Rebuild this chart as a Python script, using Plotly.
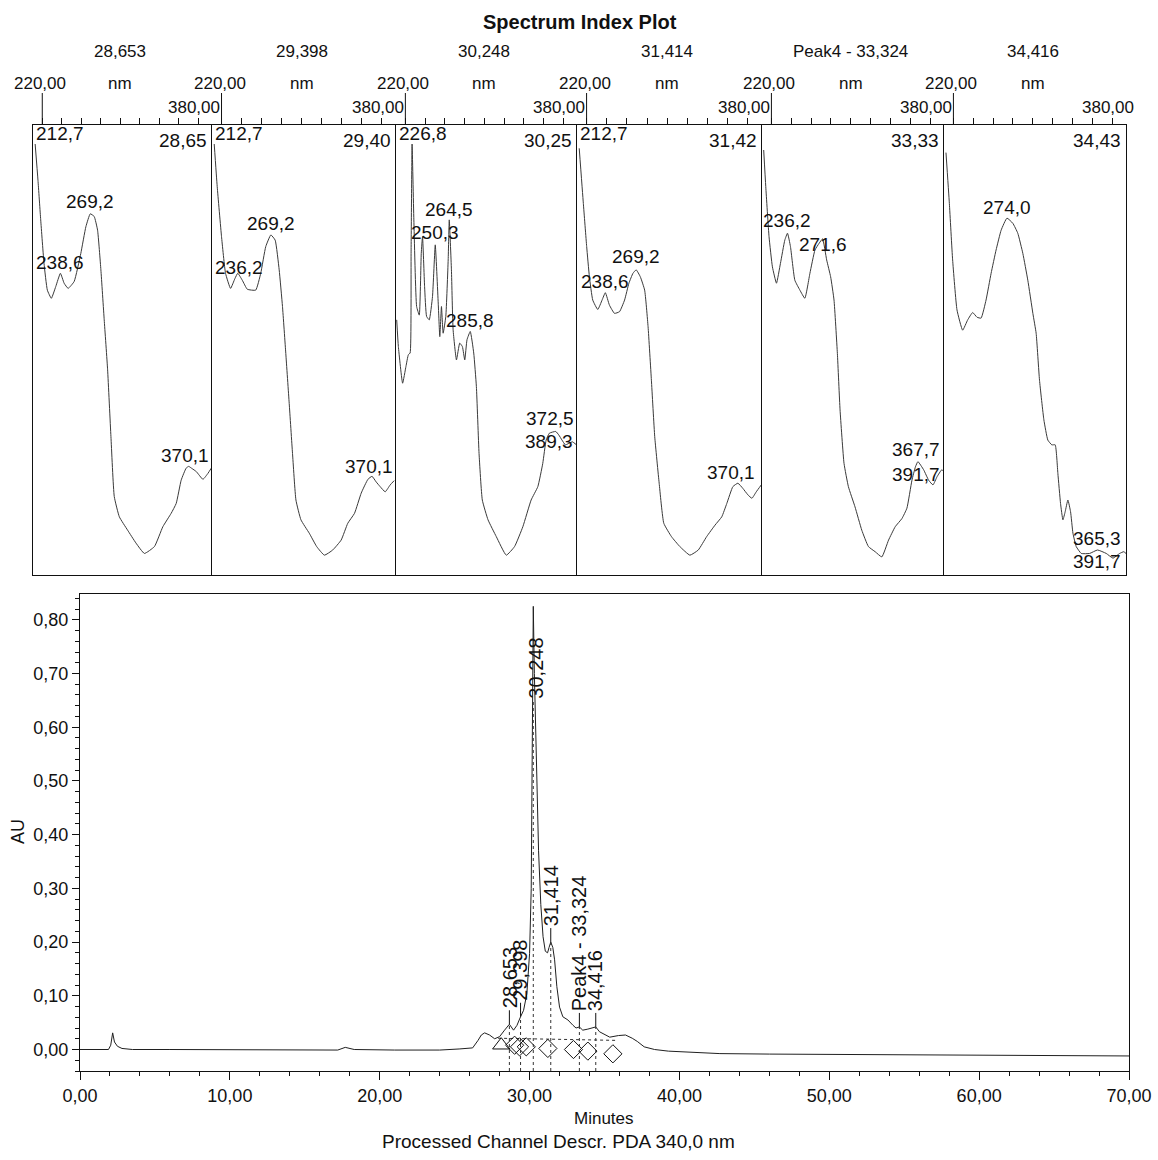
import numpy as np
import plotly.graph_objects as go

# ---------------------------------------------------------------
# UV spectra (wavelength in nm, relative absorbance) for each peak
# ---------------------------------------------------------------
spec1_wl = [212.7, 215.6, 218.4, 221.8, 225.2, 229.3, 233.8, 238.6, 242.4, 246.5,
            252.7, 259.5, 264.7, 269.2, 273.2, 276.7, 280.1, 283.5, 287.0, 290.4,
            293.8, 299.0, 307.5, 316.1, 324.7, 335.0, 343.6, 352.1, 357.3, 362.4,
            367.5, 370.1, 373.5, 377.9, 384.7, 389.9, 393.3]
spec1_abs = [1.000, 0.916, 0.824, 0.723, 0.661, 0.642, 0.669, 0.700, 0.677, 0.665,
             0.681, 0.746, 0.808, 0.838, 0.832, 0.800, 0.708, 0.592, 0.476, 0.321,
             0.182, 0.135, 0.104, 0.074, 0.050, 0.066, 0.112, 0.143, 0.166, 0.220,
             0.248, 0.252, 0.247, 0.240, 0.222, 0.236, 0.248]

spec2_wl = [212.7, 215.7, 220.0, 224.0, 229.0, 233.4, 236.2, 240.7, 245.7, 254.1,
            259.1, 264.1, 269.2, 273.5, 277.5, 280.8, 284.1, 287.5, 290.8, 294.2,
            299.2, 307.5, 314.9, 322.6, 330.9, 339.3, 345.9, 352.6, 359.3, 366.0,
            370.1, 374.2, 378.2, 383.2, 388.2, 392.2]
spec2_abs = [1.000, 0.901, 0.785, 0.700, 0.665, 0.688, 0.700, 0.684, 0.663, 0.661,
             0.700, 0.762, 0.789, 0.777, 0.708, 0.623, 0.514, 0.398, 0.282, 0.174,
             0.128, 0.097, 0.066, 0.046, 0.058, 0.081, 0.120, 0.143, 0.190, 0.222,
             0.229, 0.216, 0.205, 0.193, 0.209, 0.219]

spec3_wl = [211.2, 212.9, 217.2, 220.6, 223.0, 224.8, 225.8, 226.8, 228.6, 231.4,
            234.1, 236.1, 237.4, 239.5, 241.5, 244.2, 247.5, 250.3, 253.3, 254.9,
            256.6, 258.3, 261.0, 263.4, 264.5, 266.7, 268.4, 271.8, 275.1, 277.8,
            280.2, 282.5, 285.8, 289.3, 292.0, 294.7, 298.0, 303.8, 312.2, 322.3,
            330.7, 339.1, 347.5, 354.3, 359.3, 362.7, 366.0, 372.5, 375.5, 378.8,
            382.2, 389.3, 393.5]
spec3_abs = [0.592, 0.530, 0.445, 0.484, 0.511, 0.515, 0.746, 1.000, 0.824, 0.623,
             0.603, 0.746, 0.785, 0.669, 0.600, 0.592, 0.646, 0.766, 0.631, 0.553,
             0.623, 0.561, 0.600, 0.731, 0.824, 0.708, 0.569, 0.499, 0.538, 0.530,
             0.499, 0.546, 0.565, 0.515, 0.437, 0.282, 0.174, 0.128, 0.089, 0.046,
             0.066, 0.112, 0.174, 0.205, 0.259, 0.313, 0.329, 0.333, 0.325, 0.313,
             0.302, 0.309, 0.302]

spec4_wl = [212.7, 216.8, 220.1, 222.8, 226.1, 231.1, 235.4, 238.6, 242.7, 247.7,
            252.7, 257.7, 262.0, 266.0, 269.2, 273.3, 277.6, 281.0, 284.3, 287.6,
            292.0, 296.6, 304.2, 312.5, 322.5, 330.8, 339.1, 347.5, 354.1, 359.1,
            365.1, 370.1, 375.0, 380.0, 384.0, 388.3, 393.3]
spec4_abs = [0.990, 0.862, 0.762, 0.692, 0.638, 0.616, 0.638, 0.655, 0.626, 0.607,
             0.611, 0.638, 0.677, 0.700, 0.708, 0.692, 0.661, 0.576, 0.452, 0.321,
             0.213, 0.120, 0.089, 0.066, 0.046, 0.058, 0.089, 0.116, 0.135, 0.166,
             0.205, 0.213, 0.201, 0.186, 0.178, 0.193, 0.209]

spec5_wl = [212.2, 214.3, 217.6, 221.0, 225.1, 229.1, 233.5, 236.2, 239.2, 243.6,
            248.7, 253.7, 258.8, 263.9, 268.2, 271.6, 275.7, 279.7, 283.1, 286.5,
            289.2, 293.2, 297.6, 304.3, 311.1, 317.8, 324.6, 331.3, 338.1, 344.8,
            351.6, 356.6, 361.7, 365.2, 367.7, 373.5, 378.5, 382.9, 387.0, 391.7,
            393.9]
spec5_abs = [0.986, 0.901, 0.785, 0.715, 0.677, 0.723, 0.777, 0.793, 0.762, 0.684,
             0.661, 0.642, 0.700, 0.754, 0.770, 0.780, 0.731, 0.692, 0.638, 0.514,
             0.383, 0.259, 0.205, 0.158, 0.104, 0.066, 0.054, 0.042, 0.081, 0.112,
             0.131, 0.155, 0.220, 0.251, 0.263, 0.244, 0.220, 0.209, 0.228, 0.244,
             0.240]

spec6_wl = [212.5, 215.9, 219.2, 223.6, 229.3, 234.4, 239.4, 243.8, 247.9, 252.9,
            258.0, 263.0, 268.1, 274.0, 279.9, 284.9, 290.0, 295.0, 300.1, 303.4,
            306.8, 311.2, 315.2, 319.2, 322.6, 325.3, 328.0, 330.4, 332.7, 335.4,
            338.1, 340.5, 343.8, 348.9, 357.3, 365.3, 374.1, 380.9, 387.6, 391.7,
            394.0]
spec6_abs = [0.980, 0.862, 0.731, 0.615, 0.568, 0.592, 0.609, 0.598, 0.596, 0.638,
             0.700, 0.754, 0.800, 0.828, 0.816, 0.793, 0.746, 0.684, 0.607, 0.561,
             0.452, 0.360, 0.313, 0.302, 0.302, 0.236, 0.166, 0.128, 0.147, 0.174,
             0.147, 0.097, 0.066, 0.050, 0.050, 0.058, 0.050, 0.039, 0.050, 0.054,
             0.050]

# peak identities shown above each spectrum
spec_headers = ["28,653", "29,398", "30,248", "31,414", "Peak4 - 33,324", "34,416"]
# retention time at which each spectrum was extracted (min)
spec_times = [28.65, 29.40, 30.25, 31.42, 33.33, 34.43]
# lambda max printed in the upper-left corner (None = not printed)
spec_lmax = [212.7, 212.7, 226.8, 212.7, None, None]
# labelled spectral maxima (nm)
spec1_peaks = [238.6, 269.2, 370.1]
spec2_peaks = [236.2, 269.2, 370.1]
spec3_peaks = [250.3, 264.5, 285.8, 372.5, 389.3]
spec4_peaks = [238.6, 269.2, 370.1]
spec5_peaks = [236.2, 271.6, 367.7, 391.7]
spec6_peaks = [274.0, 365.3, 391.7]

# ---------------------------------------------------------------
# Chromatogram, PDA 340 nm
# ---------------------------------------------------------------
chrom_t = [0.0, 1.9, 2.05, 2.18, 2.3, 2.5, 2.8, 3.5, 6.0, 10.0,
           14.0, 17.2, 17.7, 18.3, 21.0, 24.0, 25.3, 26.2, 26.56, 26.78,
           27.0, 27.33, 27.67, 28.0, 28.33, 28.653, 28.93, 29.16, 29.398, 29.6,
           29.82, 30.0, 30.11, 30.18, 30.248, 30.32, 30.45, 30.6, 30.75, 30.9,
           31.05, 31.2, 31.3, 31.414, 31.55, 31.67, 31.82, 32.0, 32.22, 32.56,
           32.9, 33.1, 33.324, 33.55, 33.89, 34.1, 34.416, 34.67, 35.0, 35.35,
           35.93, 36.4, 36.85, 37.19, 37.65, 38.34, 39.26, 40.41, 42.7, 46.0,
           50.0, 55.0, 60.0, 65.0, 70.0]
chrom_au = [0.000, 0.000, 0.008, 0.031, 0.014, 0.006, 0.002, 0.000, 0.000, 0.000,
            -0.001, -0.001, 0.004, 0.000, -0.001, -0.001, 0.001, 0.003, 0.017, 0.027,
            0.031, 0.027, 0.020, 0.024, 0.036, 0.047, 0.036, 0.045, 0.061, 0.073,
            0.104, 0.179, 0.300, 0.560, 0.825, 0.700, 0.520, 0.370, 0.270, 0.210,
            0.183, 0.180, 0.190, 0.200, 0.190, 0.167, 0.117, 0.079, 0.061, 0.055,
            0.045, 0.040, 0.042, 0.036, 0.038, 0.040, 0.042, 0.033, 0.028, 0.023,
            0.026, 0.027, 0.021, 0.015, 0.005, 0.000, -0.003, -0.0045, -0.0076, -0.0085,
            -0.009, -0.0095, -0.010, -0.011, -0.012]

peak_names = ["28,653", "29,398", "30,248", "31,414", "Peak4 - 33,324", "34,416"]
peak_times = [28.653, 29.398, 30.248, 31.414, 33.324, 34.416]

# integration event markers
event_diamond_t = [29.0, 29.33, 29.78, 31.22, 32.93, 33.89, 35.56]
event_diamond_au = [0.008, 0.005, 0.005, 0.002, 0.000, -0.003, -0.008]
event_start_t = [28.11]
event_start_au = [0.008]
baseline_t = [27.9, 35.8]
baseline_au = [0.021, 0.017]

# ---------------------------------------------------------------
# page geometry (pixels) and styling
# ---------------------------------------------------------------
W, H = 1158, 1160
FONT = "Liberation Sans, Arial, Helvetica, sans-serif"
INK = "#111111"
PANEL_EDGES = [33, 212, 396, 577, 762, 944, 1126]
PANEL_TOP, PANEL_BOT = 125, 575
WL_RANGE = [210.5, 394.0]
AB_RANGE = [0.0, 450.0 / 431.0]
CH_LEFT, CH_RIGHT, CH_TOP, CH_BOT = 80, 1129, 594, 1071
AU_RANGE = [-0.040, 0.848]

# label offsets (px) relative to each labelled spectral maximum
spec_label_offsets = [
    [(0, 11), (0, 12), (-4, 11)],
    [(1, 6), (0, 11), (-3, 10)],
    [(0, 12), (0, 10), (0, 11), (-6, 13), (-23, 0)],
    [(0, 11), (0, 13), (-7, 11)],
    [(0, 13), (0, -6), (-2, 12), (-26, -5)],
    [(0, 11), (-1, 12), (-27, -10)],
]


def fx(px):
    return px / W


def fy(py):
    return 1 - py / H


def comma(v, nd):
    return f"{v:.{nd}f}".replace(".", ",")


spectra = [(spec1_wl, spec1_abs), (spec2_wl, spec2_abs), (spec3_wl, spec3_abs),
           (spec4_wl, spec4_abs), (spec5_wl, spec5_abs), (spec6_wl, spec6_abs)]
spec_peaks = [spec1_peaks, spec2_peaks, spec3_peaks, spec4_peaks, spec5_peaks, spec6_peaks]

fig = go.Figure()
annotations = []
shapes = []
layout_axes = {}

label_font = dict(family=FONT, size=19, color=INK)
small_font = dict(family=FONT, size=17, color=INK)
n_panels = len(spectra)

for i, (wl, ab) in enumerate(spectra):
    n = i + 1
    xa = "x" if n == 1 else f"x{n}"
    ya = "y" if n == 1 else f"y{n}"
    xkey = "xaxis" if n == 1 else f"xaxis{n}"
    ykey = "yaxis" if n == 1 else f"yaxis{n}"
    left, right = PANEL_EDGES[i], PANEL_EDGES[i + 1]

    fig.add_trace(go.Scatter(x=wl, y=ab, mode="lines", xaxis=xa, yaxis=ya,
                             line=dict(color="#3a3a3a", width=1, shape="spline", smoothing=0.4),
                             showlegend=False, hoverinfo="skip"))

    layout_axes[xkey] = dict(domain=[fx(left), fx(right)], range=WL_RANGE, anchor=ya,
                             side="top", showline=True, mirror=True, linecolor=INK, linewidth=1,
                             ticks="outside", tickvals=list(range(220, 381, 20)), ticklen=6,
                             tickcolor=INK, showticklabels=False, showgrid=False, zeroline=False,
                             automargin=False, fixedrange=True)
    # shared dividers are drawn once, by the left edge of the following panel
    layout_axes[ykey] = dict(domain=[fy(PANEL_BOT), fy(PANEL_TOP)], range=AB_RANGE, anchor=xa,
                             showline=True, mirror=(n == n_panels), linecolor=INK, linewidth=1,
                             ticks="", showticklabels=False, showgrid=False, zeroline=False,
                             automargin=False, fixedrange=True)

    # long tick at the start wavelength
    shapes.append(dict(type="line", xref=xa, yref="paper", x0=220, x1=220,
                       y0=fy(PANEL_TOP), y1=fy(93), line=dict(color=INK, width=1)))

    # wavelength scale captions
    annotations += [
        dict(x=220, y=fy(83), xref=xa, yref="paper", text="220,00", showarrow=False,
             xshift=-2, font=small_font, xanchor="center", yanchor="middle"),
        dict(x=300, y=fy(83), xref=xa, yref="paper", text="nm", showarrow=False,
             font=small_font, xanchor="center", yanchor="middle"),
        dict(x=380, y=fy(108), xref=xa, yref="paper", text="380,00", showarrow=False,
             xshift=-4, font=small_font, xanchor="center", yanchor="middle"),
        dict(x=300, y=fy(52), xref=xa, yref="paper", text=spec_headers[i], showarrow=False,
             font=small_font, xanchor="center", yanchor="middle"),
        dict(x=fx(right - 3), y=fy(128), xref="paper", yref="paper",
             text=comma(spec_times[i], 2), showarrow=False, font=label_font,
             xanchor="right", yanchor="top"),
    ]
    if spec_lmax[i] is not None:
        annotations.append(dict(x=fx(left + 1), y=fy(121), xref="paper", yref="paper",
                                text=comma(spec_lmax[i], 1), showarrow=False, font=label_font,
                                xanchor="left", yanchor="top"))

    for p, (dx, dy) in zip(spec_peaks[i], spec_label_offsets[i]):
        annotations.append(dict(x=p, y=float(np.interp(p, wl, ab)), xref=xa, yref=ya,
                                text=comma(p, 1), showarrow=False, xshift=dx, yshift=dy,
                                font=label_font, xanchor="center", yanchor="middle"))

# ---------------- chromatogram ----------------
fig.add_trace(go.Scatter(x=chrom_t, y=chrom_au, mode="lines", xaxis="x7", yaxis="y7",
                         line=dict(color="#202020", width=1), showlegend=False,
                         hoverinfo="skip"))
fig.add_trace(go.Scatter(x=baseline_t, y=baseline_au, mode="lines", xaxis="x7", yaxis="y7",
                         line=dict(color="#303030", width=1, dash="dot"), showlegend=False,
                         hoverinfo="skip"))
fig.add_trace(go.Scatter(x=event_diamond_t, y=event_diamond_au, mode="markers",
                         xaxis="x7", yaxis="y7",
                         marker=dict(symbol="diamond-open", size=14, color=INK,
                                     line=dict(width=1, color=INK)),
                         showlegend=False, hoverinfo="skip"))
fig.add_trace(go.Scatter(x=event_start_t, y=event_start_au, mode="markers",
                         xaxis="x7", yaxis="y7",
                         marker=dict(symbol="triangle-up-open", size=15, color=INK,
                                     line=dict(width=1, color=INK)),
                         showlegend=False, hoverinfo="skip"))

px_per_au = (CH_BOT - CH_TOP) / (AU_RANGE[1] - AU_RANGE[0])
leader_au = 14 / px_per_au
peak_font = dict(family=FONT, size=20, color=INK)

for name, t in zip(peak_names, peak_times):
    apex = float(np.interp(t, chrom_t, chrom_au))
    if apex > 0.5:
        # tallest peak: label sits inside the peak below its apex
        label_y = apex - 62 / px_per_au
        shapes.append(dict(type="line", xref="x7", yref="y7", x0=t, x1=t,
                           y0=AU_RANGE[0], y1=label_y - 32 / px_per_au,
                           line=dict(color="#333333", width=1, dash="dot")))
        annotations.append(dict(x=t, y=label_y, xref="x7", yref="y7", text=name,
                                textangle=-90, showarrow=False, xshift=3,
                                font=peak_font, xanchor="center", yanchor="middle"))
    else:
        shapes.append(dict(type="line", xref="x7", yref="y7", x0=t, x1=t,
                           y0=AU_RANGE[0], y1=apex,
                           line=dict(color="#333333", width=1, dash="dot")))
        shapes.append(dict(type="line", xref="x7", yref="y7", x0=t, x1=t,
                           y0=apex, y1=apex + leader_au,
                           line=dict(color=INK, width=1)))
        annotations.append(dict(x=t, y=apex + leader_au, xref="x7", yref="y7", text=name,
                                textangle=-90, showarrow=False,
                                font=peak_font, xanchor="center", yanchor="bottom"))

layout_axes["xaxis7"] = dict(domain=[fx(CH_LEFT), fx(CH_RIGHT)], range=[0, 70], anchor="y7",
                             showline=True, mirror=True, linecolor=INK, linewidth=1,
                             ticks="outside", tick0=0, dtick=10, ticklen=8, tickcolor=INK,
                             tickformat=".2f", tickfont=dict(family=FONT, size=18, color=INK),
                             minor=dict(ticks="outside", dtick=2, ticklen=4, tickcolor=INK),
                             showgrid=False, zeroline=False, automargin=False, fixedrange=True)
layout_axes["yaxis7"] = dict(domain=[fy(CH_BOT), fy(CH_TOP)], range=AU_RANGE, anchor="x7",
                             showline=True, mirror=True, linecolor=INK, linewidth=1,
                             ticks="outside", tick0=0, dtick=0.1, ticklen=7, tickcolor=INK,
                             tickformat=".2f", tickfont=dict(family=FONT, size=18, color=INK),
                             minor=dict(ticks="outside", dtick=0.02, ticklen=4, tickcolor=INK),
                             showgrid=False, zeroline=False, automargin=False, fixedrange=True)

annotations += [
    dict(x=fx(580), y=fy(22), xref="paper", yref="paper", text="<b>Spectrum Index Plot</b>",
         showarrow=False, font=dict(family=FONT, size=20, color=INK),
         xanchor="center", yanchor="middle"),
    dict(x=fx(18), y=fy(832), xref="paper", yref="paper", text="AU", textangle=-90,
         showarrow=False, font=dict(family=FONT, size=18, color=INK),
         xanchor="center", yanchor="middle"),
    dict(x=fx(604), y=fy(1118), xref="paper", yref="paper", text="Minutes",
         showarrow=False, font=dict(family=FONT, size=17, color=INK),
         xanchor="center", yanchor="middle"),
    dict(x=fx(558), y=fy(1141), xref="paper", yref="paper",
         text="Processed Channel Descr. PDA 340,0 nm",
         showarrow=False, font=dict(family=FONT, size=19, color=INK),
         xanchor="center", yanchor="middle"),
]

fig.update_layout(
    width=W, height=H,
    margin=dict(l=0, r=0, t=0, b=0, autoexpand=False),
    paper_bgcolor="white", plot_bgcolor="white",
    separators=", ",
    font=dict(family=FONT, color=INK),
    showlegend=False,
    annotations=annotations,
    shapes=shapes,
    **layout_axes,
)

fig.write_html("out.html")
